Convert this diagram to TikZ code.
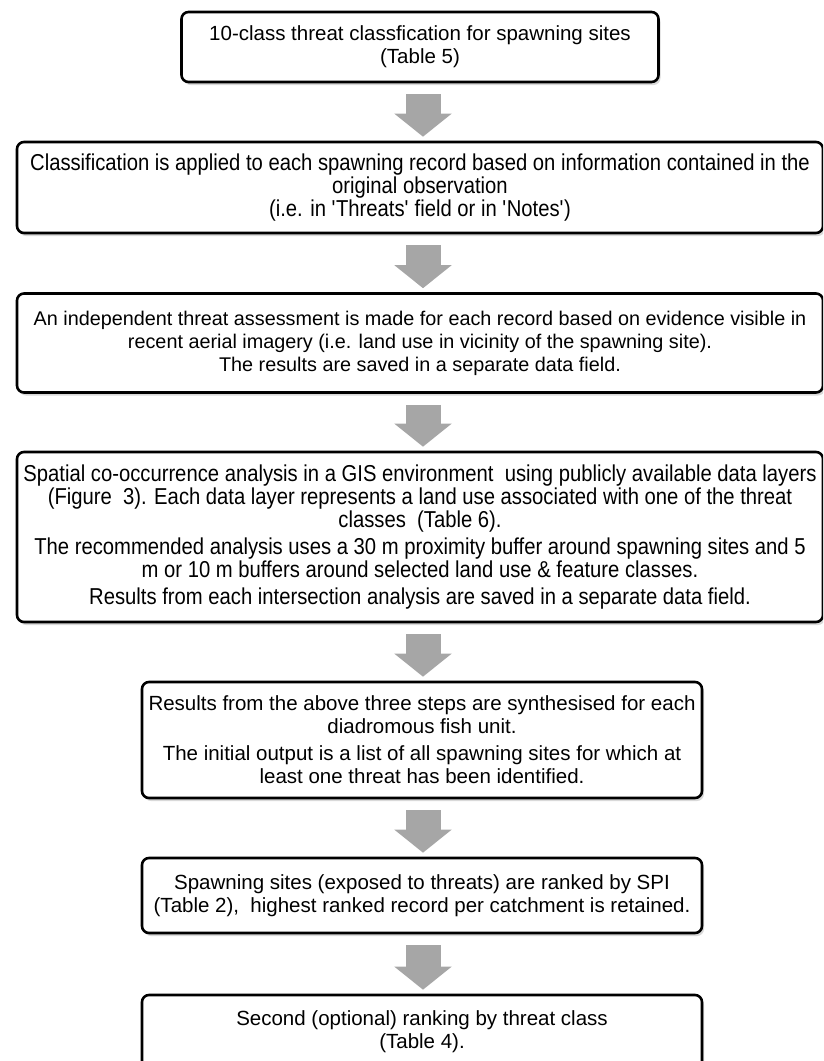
\documentclass[tikz,border=0pt]{standalone}
\usepackage{fontspec}
\setmainfont{Liberation Sans}
\newfontfamily\narrowsf[FakeStretch=0.88]{Liberation Sans}
\usetikzlibrary{shadows,arrows.meta}

\definecolor{arrowgray}{RGB}{166,166,166}

\tikzset{
	stepbox/.style={draw=black, line width=2.6pt, rounded corners=7pt, fill=white,
		align=center, inner sep=0pt,
		drop shadow={shadow xshift=2pt, shadow yshift=-3pt, opacity=0.3}},
	wide/.style={font=\fontsize{20.5}{23}\selectfont},
	narrow/.style={font=\narrowsf\fontsize{23}{23}\selectfont},
	flowarrow/.style={draw=arrowgray, line width=35pt, -{Triangle[width=56pt,length=23pt]}}
}

\begin{document}
\begin{tikzpicture}[x=1pt,y=-1pt]
	\useasboundingbox (0,0) rectangle (823,1061);
	\clip (0,0) rectangle (823,1061);
	% Steps of the threat assessment
	\node[stepbox, wide, minimum width=477pt, minimum height=70pt] (classes) at (420,47)
		{10-class threat classfication for spawning sites\\(Table 5)};
	\node[stepbox, narrow, minimum width=806pt, minimum height=91pt] (records) at (420,187.5)
		{Classification is applied to each spawning record based on information contained in the\\
		original observation\\(i.e. in \textquotesingle Threats\textquotesingle\ field or in \textquotesingle Notes\textquotesingle)};
	\node[stepbox, font=\fontsize{19.8}{23}\selectfont, minimum width=806pt, minimum height=99pt] (imagery) at (420,343)
		{An independent threat assessment is made for each record based on evidence visible in\\
		recent aerial imagery (i.e. land use in vicinity of the spawning site).\\
		The results are saved in a separate data field.};
	\node[stepbox, narrow, minimum width=806pt, minimum height=170pt] (gis) at (420,537)
		{Spatial co-occurrence analysis in a GIS environment\ \ using publicly available data layers\\
		(Figure\ \ 3). Each data layer represents a land use associated with one of the threat\\
		classes\ \ (Table 6).\\[4pt]
		The recommended analysis uses a 30 m proximity buffer around spawning sites and 5\\
		m or 10 m buffers around selected land use \& feature classes.\\[4pt]
		Results from each intersection analysis are saved in a separate data field.};
	\node[stepbox, wide, minimum width=560pt, minimum height=116pt] (synthesis) at (422,740)
		{Results from the above three steps are synthesised for each\\
		diadromous fish unit.\\[4pt]
		The initial output is a list of all spawning sites for which at\\
		least one threat has been identified.};
	\node[stepbox, wide, minimum width=560pt, minimum height=75pt] (ranking) at (422,895.5)
		{Spawning sites (exposed to threats) are ranked by SPI\\
		(Table 2),\ \ highest ranked record per catchment is retained.};
	\node[stepbox, wide, minimum width=560pt, minimum height=73pt] (optional) at (422,1031.5)
		{Second (optional) ranking by threat class\\(Table 4).};
	% Gray arrows between the steps
	\foreach \a/\b in {classes/records, records/imagery, imagery/gis, gis/synthesis,
		synthesis/ranking, ranking/optional} {
		\draw[flowarrow] ([yshift=-11pt]\a.south -| 423,0) -- ([yshift=4pt]\b.north -| 423,0);
	}
\end{tikzpicture}
\end{document}
